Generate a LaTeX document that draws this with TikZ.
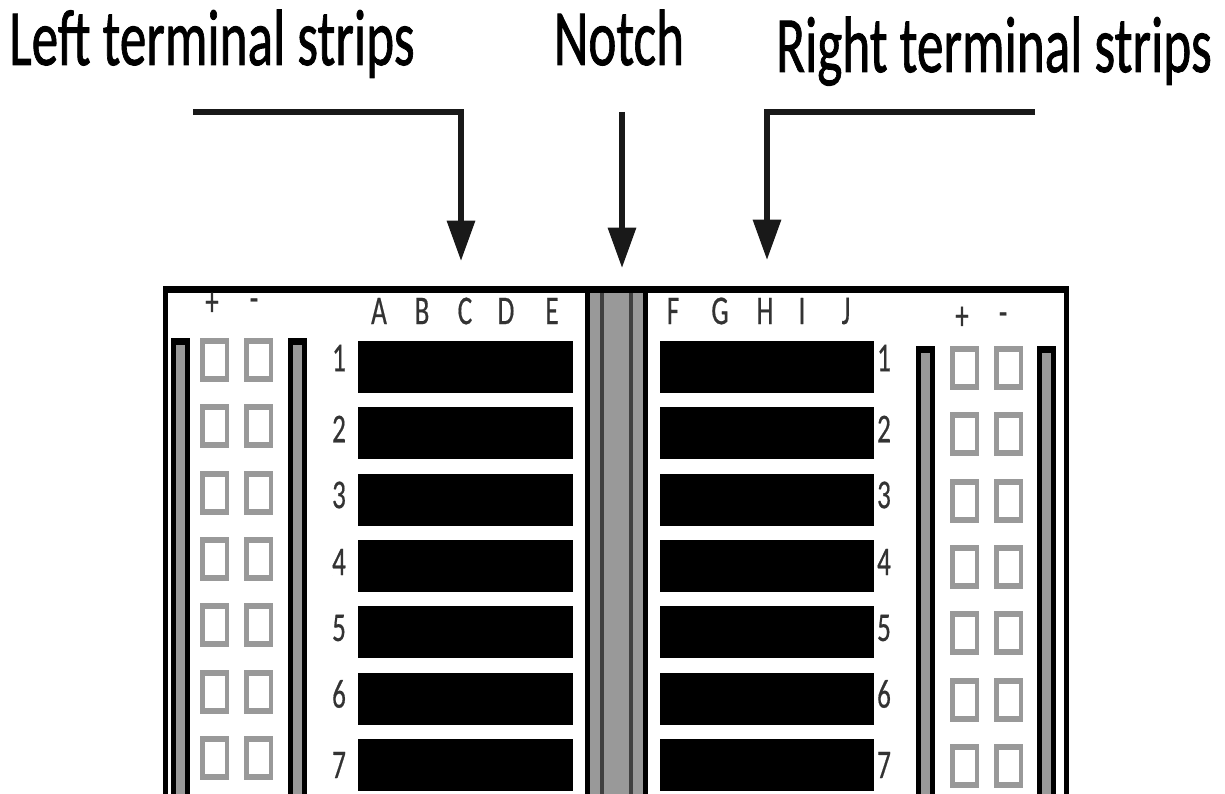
\documentclass[tikz,border=0pt]{standalone}
\usepackage{fontspec}
\setmainfont{Carlito}
\newfontfamily\heavyfont[FakeBold=0.6]{Carlito}
\newfontfamily\heavierfont[FakeBold=1.2]{Carlito}
\usetikzlibrary{arrows.meta}
\definecolor{railgray}{HTML}{999999}
\definecolor{notchdark}{HTML}{404040}
\newcommand{\bigtext}[1]{\scalebox{1}[1.5]{\fontsize{30.3pt}{33pt}\heavierfont #1}}
\newcommand{\smalltext}[1]{\scalebox{1}[1.5]{\fontsize{15.5pt}{17pt}\heavyfont #1}}
\tikzset{
  pointer/.style={line width=3.2pt,draw=black!90,-{Triangle[length=23pt,width=15.5pt,fill=black!90]}},
  biglabel/.style={inner sep=0pt,anchor=base},
  smalllabel/.style={inner sep=0pt,text=black!80},
}
\newcommand{\holes}[2]{
  \fill[railgray] (#1,#2) rectangle (#1+29,#2+44);
  \fill[white] (#1+4.5,#2+6) rectangle (#1+24.5,#2+38);
  \fill[railgray] (#1+44,#2) rectangle (#1+73,#2+44);
  \fill[white] (#1+48.5,#2+6) rectangle (#1+68.5,#2+38);
}
\newcommand{\rail}[2]{
  \fill[black] (#1,#2) rectangle (#1+19,794);
  \fill[railgray] (#1+5,#2+7) rectangle (#1+14,794);
}
\begin{document}
\begin{tikzpicture}[x=0.02cm,y=-0.02cm]
  \useasboundingbox (0,0) rectangle (1225,794);
  \coordinate (leftstart)   at (193,112);
  \coordinate (lefttip)     at (461,261);
  \coordinate (notchstart)  at (622,112);
  \coordinate (notchtip)    at (622,268);
  \coordinate (rightstart)  at (1035,112);
  \coordinate (righttip)    at (767,260);
  \node[biglabel] (leftlabel)  at (212,65) {\bigtext{Left terminal strips}};
  \node[biglabel] (notchlabel) at (619,65) {\bigtext{Notch}};
  \node[biglabel] (rightlabel) at (994,72) {\bigtext{Right terminal strips}};
  \draw[pointer] (leftstart) -| (lefttip);
  \draw[pointer] (notchstart) -- (notchtip);
  \draw[pointer] (rightstart) -| (righttip);
  \fill[black] (163,286) rectangle (1069,293);
  \fill[black] (163,286) rectangle (168,794);
  \fill[black] (1064,286) rectangle (1069,794);
  \fill[black] (585,293) rectangle (590,794);
  \fill[railgray] (590,293) rectangle (643,794);
  \fill[notchdark] (600,293) rectangle (604,794);
  \fill[notchdark] (629,293) rectangle (633,794);
  \fill[black] (643,293) rectangle (648,794);
  \rail{171}{338}
  \rail{288}{338}
  \rail{916}{346}
  \rail{1037}{346}
  \foreach \row/\ytext/\num in {0/358/1,1/429/2,2/495/3,3/562/4,4/628/5,5/694/6,6/765/7} {
    \pgfmathsetmacro{\ybar}{341+66.3*\row}
    \fill[black] (358,\ybar) rectangle (573,\ybar+52);
    \fill[black] (660,\ybar) rectangle (874,\ybar+52);
    \holes{200}{\ybar-3}
    \holes{950}{\ybar+5}
    \node[smalllabel] (leftnum\num)  at (339,\ytext) {\smalltext{\num}};
    \node[smalllabel] (rightnum\num) at (884,\ytext) {\smalltext{\num}};
  }
  \foreach \letter/\xtext in {A/379,B/422,C/465,D/506,E/552,F/673,G/720,H/765,I/802,J/846} {
    \node[smalllabel] (col\letter) at (\xtext,311) {\smalltext{\letter}};
  }
  \node[smalllabel] (leftplus)   at (212,304) {\smalltext{+}};
  \node[smalllabel] (leftminus)  at (254,305) {\smalltext{-}};
  \node[smalllabel] (rightplus)  at (962,318) {\smalltext{+}};
  \node[smalllabel] (rightminus) at (1003,319) {\smalltext{-}};
\end{tikzpicture}
\end{document}
